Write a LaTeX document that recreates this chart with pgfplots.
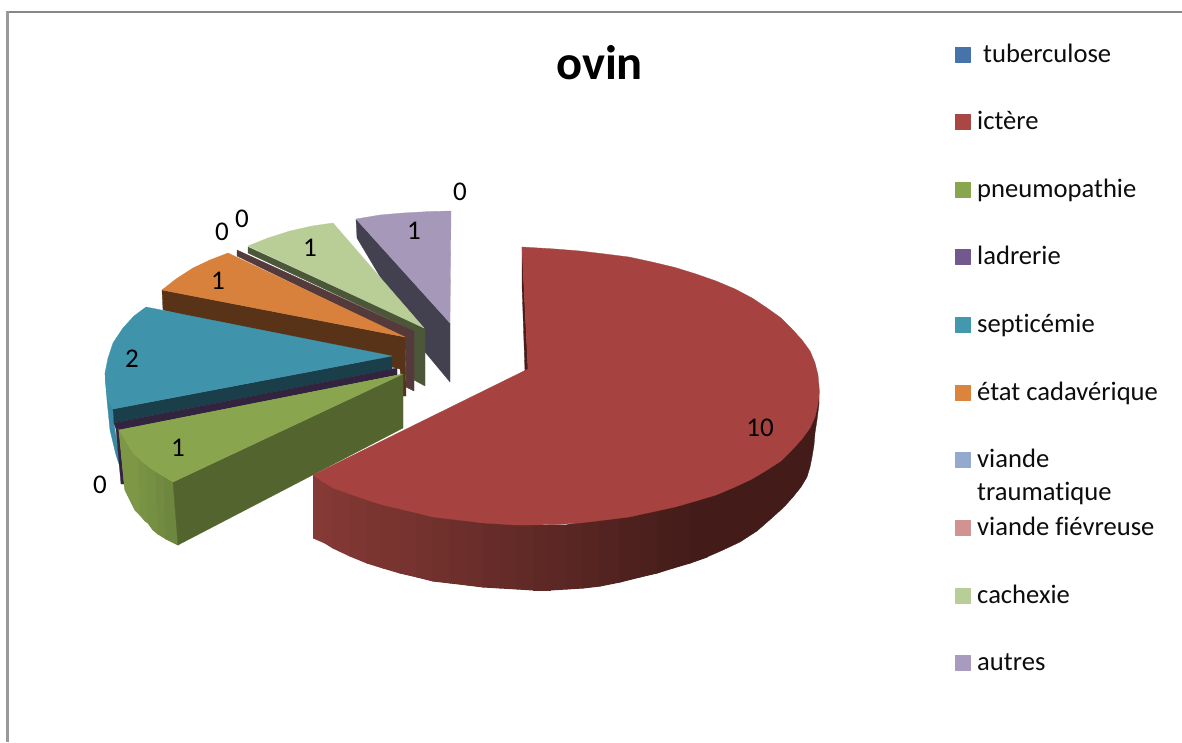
\documentclass[border=0pt]{standalone}
\usepackage{pgfplots}
\pgfplotsset{compat=1.18}
\usepackage{fontspec}
\setmainfont[Ligatures=NoCommon]{Carlito}
\definecolor{cTub}{HTML}{4674AA}
\definecolor{cIct}{HTML}{AA4644}
\definecolor{cPneu}{HTML}{89A54E}
\definecolor{cLad}{HTML}{71588F}
\definecolor{cSep}{HTML}{4198AF}
\definecolor{cEtat}{HTML}{DB843D}
\definecolor{cTrau}{HTML}{93A9CF}
\definecolor{cFiev}{HTML}{D19392}
\definecolor{cCach}{HTML}{B9CD96}
\definecolor{cAut}{HTML}{A99BBD}
\definecolor{sideLight}{HTML}{863A36}
\definecolor{sideDark}{HTML}{431C19}
\definecolor{wallA}{HTML}{7D9747}
\definecolor{wallB}{HTML}{6E873F}
\definecolor{flankAut}{HTML}{43404F}
\definecolor{flankCach}{HTML}{4C573A}
\definecolor{flankFiev}{HTML}{553A3C}
\definecolor{flankEtat}{HTML}{593317}
\definecolor{rimSep}{HTML}{3A8AA3}
\definecolor{flankSep}{HTML}{1A3F4B}
\definecolor{flankLad}{HTML}{32233F}
\definecolor{flankPneu}{HTML}{53642E}
\definecolor{flankIct}{HTML}{4A1C1A}
\definecolor{topIct}{HTML}{A64340}
% closed filled polygon in picture units
\newcommand{\poly}[2]{\addplot[fill=#1,draw=#1,line width=0.3pt,line join=round] coordinates {#2} -- cycle;}
% one band of the shaded rim of the large slice; the stroke closes the seam to the next band
\newcommand{\band}[7]{\addplot[fill=sideLight!#1!sideDark,draw=sideLight!#1!sideDark,line width=1pt] coordinates {(#2,#3)(#5,#6)(#5,#7)(#2,#4)} -- cycle;}
\newcommand{\lab}[3]{\node[anchor=base,font=\fontsize{27}{27}\selectfont,text=black,inner sep=0pt] at (axis cs:#1,#2) {#3};}
\newcommand{\legitem}[4]{\poly{#1}{(955,#2)(970,#2)(970,#3)(955,#3)}\node[anchor=base west,font=\fontsize{26.6}{26.6}\selectfont,text=black!95,inner sep=0pt] at (axis cs:977,#3) {#4};}
\begin{document}
\begin{tikzpicture}
\begin{axis}[
  scale only axis, width=1182pt, height=742pt,
  xmin=0, xmax=1182, ymin=0, ymax=742, y dir=reverse,
  hide axis, clip=true,
]
% white page
\addplot[fill=white,draw=none] coordinates {(0,0)(1182,0)(1182,742)(0,742)} -- cycle;
% outer frame
\addplot[draw=black!47,line width=2.6pt] coordinates {(6,12)(1182,12)};
\addplot[draw=black!40,line width=2.6pt] coordinates {(7.5,11)(7.5,742)};

% autres
\poly{flankAut}{(356,219)(357,238)(425,352)(450,382)(450,323)}
\poly{cAut!98!black}{(356,219)(380,215)(403,213)(430,211.5)(451,211)(450,323)}
% cachexie
\poly{flankCach}{(248,247)(248,253)(414,331)(414,380)(425,386)(425,328)}
\poly{cCach}{(248,246)(268,238)(290,231)(312,226)(333,223)(424,328)}
% viande fievreuse
\poly{flankFiev}{(237,250)(237,256)(405,338)(406,387)(414,391)(414,331)}
% etat cadaverique
\poly{flankEtat}{(162,290)(163,310)(400,369)(403,396)(406,396)(405,337)}
\poly{cEtat!98!black}{(162,290)(176,279)(193,268)(210,260)(228,253)(405,337)}
% septicemie
\poly{rimSep}{(105,373)(108,400)(113,409)(114,423)(121,470)(116,455)(110,430)(107,400)}
\poly{flankSep}{(113,409)(392,356)(392,369)(114,423)}
\poly{cSep!97!black}{(146,307)(392,356)(113,409)(108,400)(106,388)(105,373)(108,358)(113,343)(123,328)(134,316)}
% ladrerie
\poly{flankLad}{(114,423)(397,368)(397,375)(119,430)(124,484)(121,484)(116,429)}
% pneumopathie: rim, flank and top
\addplot[fill=wallA,draw=wallA,line width=0.8pt] coordinates {(119,430)(125,490)(135,510)(140,515)(138,458)(133,453)} -- cycle;
\addplot[fill=wallA!75!wallB,draw=wallA!75!wallB,line width=0.8pt] coordinates {(138,458)(140,515)(145,521)(148,523)(146,465)} -- cycle;
\addplot[fill=wallA!50!wallB,draw=wallA!50!wallB,line width=0.8pt] coordinates {(146,465)(148,523)(153,530)(158,534)(156,472)(150,468)} -- cycle;
\addplot[fill=wallA!25!wallB,draw=wallA!25!wallB,line width=0.8pt] coordinates {(156,472)(158,534)(166,539)(164,477)} -- cycle;
\addplot[fill=wallB,draw=wallB,line width=0.8pt] coordinates {(164,477)(166,539)(178,545)(173,482)} -- cycle;
\poly{flankPneu}{(173,482)(403,374)(403,428)(178,545)}
\poly{cPneu}{(119,430)(403,374)(173,482)(150,468)(133,453)}
% ictere: inner edge, shaded rim and top
\poly{flankIct}{(522,247)(522,285)(525,372)(528,369)}
\band{100}{313.5}{475}{538}{325}{482}{543}
\band{96}{325}{482}{543}{333}{488}{548}
\band{92}{333}{488}{548}{350}{494}{556}
\band{88}{350}{494}{556}{367}{500}{563}
\band{84}{367}{500}{563}{383}{505}{568}
\band{80}{383}{505}{568}{400}{509}{573}
\band{76}{400}{509}{573}{417}{513}{577}
\band{72}{417}{513}{577}{433}{517}{581}
\band{67}{433}{517}{581}{450}{519}{583}
\band{63}{450}{519}{583}{467}{521}{585}
\band{59}{467}{521}{585}{483}{523}{587}
\band{54}{483}{523}{587}{500}{524}{588}
\band{50}{500}{524}{588}{517}{525}{589}
\band{46}{517}{525}{589}{533}{525}{590}
\band{41}{533}{525}{590}{550}{525}{590}
\band{37}{550}{525}{590}{567}{525}{589}
\band{33}{567}{525}{589}{583}{522}{588}
\band{28}{583}{522}{588}{600}{518}{586}
\band{23}{600}{518}{586}{620}{515}{582}
\band{18}{620}{515}{582}{640}{512}{577}
\band{13}{640}{512}{577}{657}{508}{573}
\band{8}{657}{508}{573}{673}{504}{568}
\band{4}{673}{504}{568}{690}{499}{563}
\band{0}{690}{499}{563}{707}{494}{557}
\poly{sideDark}{(707,494)(735,480)(767,462)(802,430)(819,396)(819,404)(817,420)(815,433)(814,445)(812,457)(810,467)(807,477)(801,487)(793,497)(784,507)(773,517)(757,531)(740,542)(723,550)(707,557)}
\poly{topIct}{(528,369)(522,247)(555,249)(580,251)(605,254)(629,257)(652,262)(675,267.5)(696,274)(716,281)(735,289)(752,298)(767,308)(781,318)(792,329)(802,340)(810,351)(815,363)(818,375)(819.5,392)(818,404)(815,417)(810,428)(802,439)(792,450)(781,461)(767,470)(752,479)(735,487)(716,495)(696,501)(675,507)(652,512)(629,517)(605,520)(580,523)(555,524.5)(530,525)(515,525)(500,524)(483,523)(467,521)(450,519)(433,517)(417,513)(400,509)(383,505)(367,500)(350,494)(333,488)(325,483)(313,475)}

% value labels
\lab{460}{200}{0}
\lab{414}{239}{1}
\lab{242}{227}{0}
\lab{222}{240}{0}
\lab{310}{256}{1}
\lab{218}{289}{1}
\lab{132}{367}{2}
\lab{178}{456}{1}
\lab{100}{493}{0}
\lab{760}{436}{10}

% title
\node[anchor=base,font=\fontsize{48.5}{48.5}\selectfont\bfseries,text=black,inner sep=0pt] at (axis cs:599.5,79.5) {ovin};

% legend
\legitem{cTub}{47}{62}{\hspace*{6pt}tuberculose}
\legitem{cIct}{114}{129}{ictère}
\legitem{cPneu}{182}{197}{pneumopathie}
\legitem{cLad}{249}{264}{ladrerie}
\legitem{cSep}{317}{332}{septicémie}
\legitem{cEtat}{385}{400}{état cadavérique}
\legitem{cTrau}{452}{467}{viande}
\node[anchor=base west,font=\fontsize{26.6}{26.6}\selectfont,text=black!95,inner sep=0pt] at (axis cs:977,500) {traumatique};
\legitem{cFiev}{520}{535}{viande fiévreuse}
\legitem{cCach}{588}{603}{cachexie}
\legitem{cAut}{655}{670}{autres}
\end{axis}
\end{tikzpicture}
\end{document}
